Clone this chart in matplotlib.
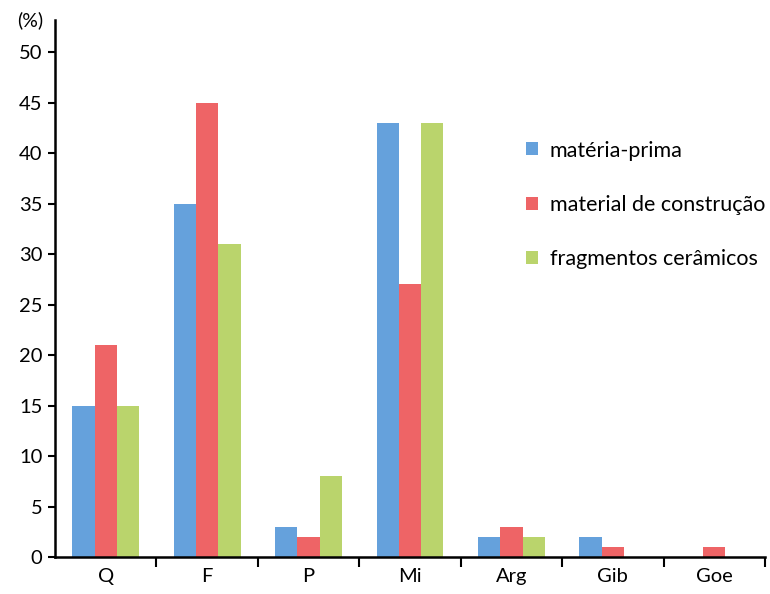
import matplotlib.pyplot as plt
import numpy as np

plt.rcParams['font.family'] = ['Lato', 'DejaVu Sans']

categories = ["Q", "F", "P", "Mi", "Arg", "Gib", "Goe"]
materia_prima = [15, 35, 3, 43, 2, 2, 0]
material_construcao = [21, 45, 2, 27, 3, 1, 1]
fragmentos = [15, 31, 8, 43, 2, 0, 0]
labels = ["matéria-prima", "material de construção", "fragmentos cerâmicos"]
colors = ["#65a1dc", "#ee6466", "#bad46c"]

fig = plt.figure(figsize=(7.7, 5.94), dpi=100)
ax = fig.add_axes([0.0714, 0.0623, 0.9221, 0.904])

x = np.arange(len(categories))
width = 0.22
series = [materia_prima, material_construcao, fragmentos]
for i, s in enumerate(series):
    ax.bar(x + (i - 1) * width, s, width, color=colors[i], label=labels[i])

ax.set_xlim(-0.5, len(categories) - 0.5)
ax.set_ylim(0, 53.2)
ax.set_yticks(range(0, 51, 5))
ax.set_xticks(x)
ax.set_xticklabels(categories)
ax.set_xticks(np.arange(0.5, len(categories), 1), minor=True)
ax.tick_params(axis='x', which='major', length=0, labelsize=14.5, pad=8)
ax.tick_params(axis='x', which='minor', length=7, width=1.5, direction='out')
ax.tick_params(axis='y', length=5, width=1.5, labelsize=14.5, pad=4)

for side in ['top', 'right']:
    ax.spines[side].set_visible(False)
for side in ['left', 'bottom']:
    ax.spines[side].set_linewidth(1.8)

ax.text(-0.035, 1.0, "(%)", transform=ax.transAxes, ha='center', va='center', fontsize=14)

ax.legend(loc='upper left', bbox_to_anchor=(0.658, 0.796), bbox_transform=fig.transFigure,
          frameon=False, fontsize=15.5, handlelength=0.55, handleheight=0.55,
          labelspacing=1.6, handletextpad=0.55)

fig.savefig("out.png", dpi=100)
